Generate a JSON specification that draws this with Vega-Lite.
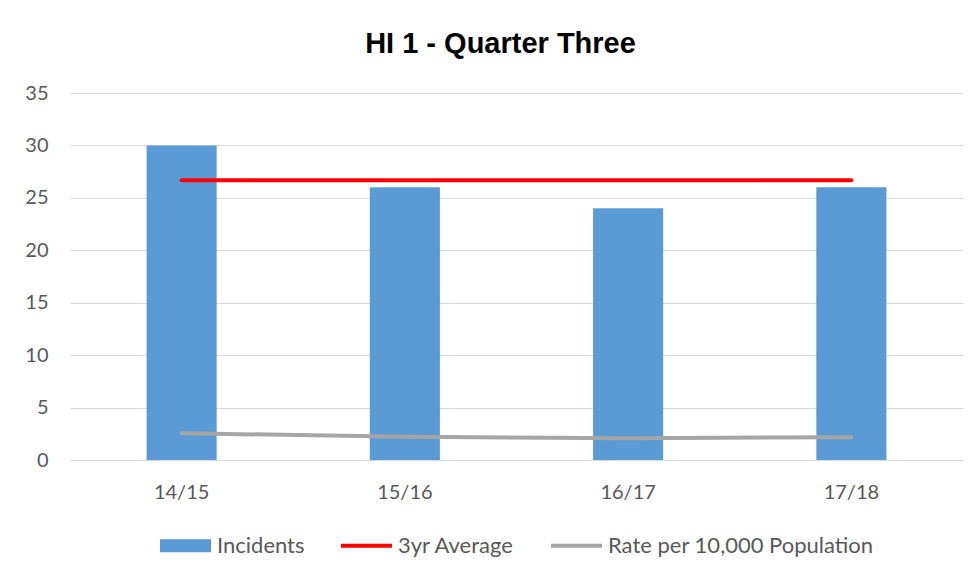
{
  "$schema": "https://vega.github.io/schema/vega-lite/v6.json",
  "width": 893,
  "height": 367,
  "autosize": {"type": "none"},
  "padding": {"left": 70, "top": 93, "right": 15, "bottom": 123},
  "background": "#FFFFFF",
  "title": {
    "text": "HI 1 - Quarter Three",
    "font": "Liberation Sans",
    "fontSize": 29,
    "fontWeight": "bold",
    "color": "#000000",
    "anchor": "middle",
    "dx": -16,
    "offset": 24
  },
  "data": {
    "values": [
      {"year": "14/15", "series": "Incidents", "value": 30},
      {"year": "15/16", "series": "Incidents", "value": 26},
      {"year": "16/17", "series": "Incidents", "value": 24},
      {"year": "17/18", "series": "Incidents", "value": 26},
      {"year": "14/15", "series": "3yr Average", "value": 26.67},
      {"year": "15/16", "series": "3yr Average", "value": 26.67},
      {"year": "16/17", "series": "3yr Average", "value": 26.67},
      {"year": "17/18", "series": "3yr Average", "value": 26.67},
      {"year": "14/15", "series": "Rate per 10,000 Population", "value": 2.56},
      {"year": "15/16", "series": "Rate per 10,000 Population", "value": 2.21},
      {"year": "16/17", "series": "Rate per 10,000 Population", "value": 2.08},
      {"year": "17/18", "series": "Rate per 10,000 Population", "value": 2.18}
    ]
  },
  "encoding": {
    "x": {
      "field": "year",
      "type": "nominal",
      "sort": null,
      "scale": {"paddingInner": 0.686, "paddingOuter": 0.343},
      "axis": {
        "title": null,
        "labelAngle": 0,
        "domain": false,
        "ticks": false,
        "grid": false,
        "labelFont": "Lato",
        "labelFontSize": 20,
        "labelColor": "#595959",
        "labelPadding": 22,
        "labelBaseline": "top"
      }
    },
    "y": {
      "field": "value",
      "type": "quantitative",
      "scale": {"domain": [0, 35], "nice": false},
      "axis": {
        "title": null,
        "values": [0, 5, 10, 15, 20, 25, 30, 35],
        "domain": false,
        "ticks": false,
        "grid": true,
        "gridColor": "#D9D9D9",
        "gridWidth": 1,
        "labelFont": "Lato",
        "labelFontSize": 20,
        "labelColor": "#595959",
        "labelPadding": 22
      }
    },
    "color": {
      "field": "series",
      "type": "nominal",
      "scale": {
        "domain": ["Incidents", "3yr Average", "Rate per 10,000 Population"],
        "range": ["#5B9BD5", "#FF0000", "#A5A5A5"]
      },
      "legend": {
        "title": null,
        "orient": "bottom",
        "direction": "horizontal",
        "offset": 18,
        "labelFont": "Lato",
        "labelFontSize": 22,
        "labelColor": "#595959",
        "labelOffset": 6,
        "labelLimit": 400,
        "symbolSize": 2601,
        "symbolStrokeWidth": 0,
        "columnPadding": 36,
        "encode": {
          "symbols": {
            "update": {
              "shape": {"signal": "datum.value === 'Incidents' ? 'M-1,-0.255H1V0.255H-1Z' : 'M-1,-0.075H1V0.075H-1Z'"},
              "fillOpacity": {"value": 1},
              "strokeWidth": {"value": 0}
            }
          }
        }
      }
    }
  },
  "layer": [
    {
      "transform": [{"filter": "datum.series === 'Incidents'"}],
      "mark": {"type": "bar"}
    },
    {
      "transform": [{"filter": "datum.series !== 'Incidents'"}],
      "mark": {"type": "line", "strokeWidth": 4, "strokeCap": "round"},
      "encoding": {"detail": {"field": "series"}}
    }
  ],
  "config": {
    "view": {"stroke": null},
    "legend": {"layout": {"bottom": {"anchor": "middle"}}}
  }
}
